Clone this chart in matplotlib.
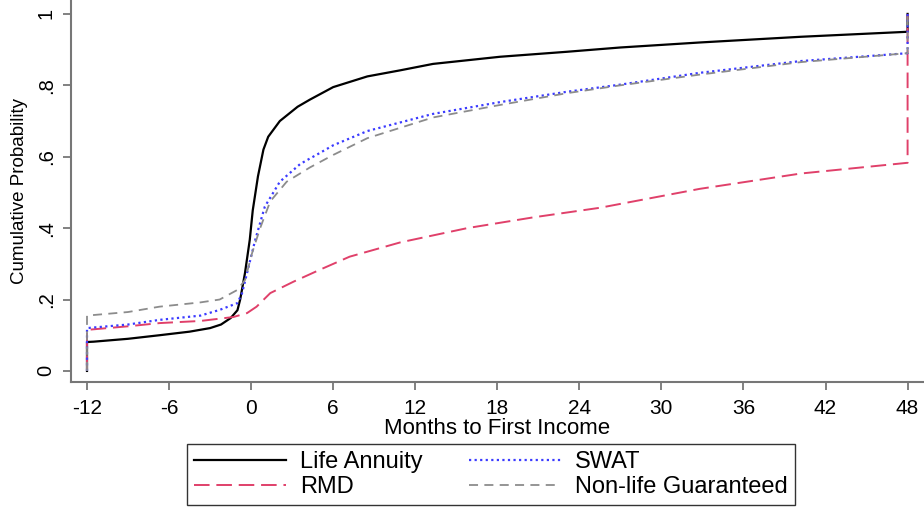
import matplotlib
matplotlib.use("Agg")
import matplotlib.pyplot as plt

plt.rcParams['font.family'] = ['Liberation Sans', 'DejaVu Sans']
plt.rcParams['axes.unicode_minus'] = False

# cumulative probability curves, months to first income
life_x = [-12, -12, -11.5, -9, -6.7, -4.5, -3, -2.2, -1.5, -1.0, -0.8, -0.45, -0.1, 0.12, 0.5, 0.9,
          1.25, 2.1, 3.4, 4.3, 6.0, 8.5, 10.9, 13.3, 18.2, 23.1, 27, 32.8, 40.2, 48, 48]
life_y = [0, 0.081, 0.082, 0.09, 0.10, 0.11, 0.12, 0.13, 0.148, 0.17, 0.2, 0.274, 0.367, 0.45, 0.545, 0.62,
          0.656, 0.70, 0.74, 0.76, 0.795, 0.825, 0.842, 0.86, 0.88, 0.894, 0.906, 0.92, 0.936, 0.95, 1.0]

rmd_x = [-12, -12, -9, -6.7, -3.7, -1.3, -0.3, 0.4, 1.4, 3.1, 5, 7.2, 10.9, 15.8, 20.6, 25.5,
         32.8, 40.2, 48, 48]
rmd_y = [0, 0.115, 0.125, 0.134, 0.14, 0.151, 0.162, 0.18, 0.218, 0.25, 0.283, 0.32, 0.36, 0.40, 0.43, 0.457,
         0.51, 0.553, 0.583, 1.0]

swat_x = [-12, -12, -9, -6.7, -3.7, -2.3, -1.0, -0.66, -0.3, 0.3, 1.0, 2.1, 3.6, 5, 6, 8.5,
          13.3, 18.2, 23.1, 27, 32.8, 40.2, 48, 48]
swat_y = [0, 0.12, 0.13, 0.143, 0.155, 0.171, 0.19, 0.218, 0.274, 0.367, 0.46, 0.53, 0.58, 0.61, 0.632, 0.672,
          0.72, 0.753, 0.782, 0.802, 0.835, 0.868, 0.89, 1.0]

nonlife_x = [-12, -12, -9, -6.7, -3.7, -2.3, -1.0, -0.44, 0.07, 0.66, 1.4, 2.6, 4.3, 6, 8.5,
             13.3, 18.2, 23.1, 27, 32.8, 40.2, 48, 48]
nonlife_y = [0, 0.155, 0.165, 0.18, 0.192, 0.2, 0.227, 0.255, 0.33, 0.40, 0.475, 0.53, 0.57, 0.605, 0.652,
             0.71, 0.745, 0.778, 0.80, 0.83, 0.865, 0.89, 1.0]

x_ticks = [-12, -6, 0, 6, 12, 18, 24, 30, 36, 42, 48]
y_ticks = [0, 0.2, 0.4, 0.6, 0.8, 1.0]
y_tick_labels = ['0', '.2', '.4', '.6', '.8', '1']

fig = plt.figure(figsize=(9.24, 5.09), dpi=100)
ax = fig.add_axes([71 / 924, 1 - 382 / 509, 1 - 71 / 924, 382 / 509])

ax.plot(life_x, life_y, color='black', lw=1.6, label='Life Annuity')
ax.plot(rmd_x, rmd_y, color='#e0406a', lw=1.4, linestyle=(0, (8, 3.5)), label='RMD')
ax.plot(swat_x, swat_y, color='#3b3bff', lw=1.6, linestyle=(0, (1, 1.5)), label='SWAT')
ax.plot(nonlife_x, nonlife_y, color='#8c8c8c', lw=1.3, linestyle=(0, (5, 3.5)), label='Non-life Guaranteed')

ax.set_xlim(-13.17, 49.2)
ax.set_ylim(-0.031, 1.039)
ax.set_xticks(x_ticks)
ax.set_yticks(y_ticks)
ax.set_yticklabels(y_tick_labels, rotation=90, va='center')
ax.tick_params(colors='#777777', labelcolor='black', length=6, width=1.3)
ax.tick_params(axis='x', labelsize=15, pad=6)
ax.tick_params(axis='y', labelsize=14.5, pad=5)

for side in ['top', 'right']:
    ax.spines[side].set_visible(False)
for side in ['left', 'bottom']:
    ax.spines[side].set_color('#777777')
    ax.spines[side].set_linewidth(1.5)

ax.set_xlabel("Months to First Income", fontsize=16, labelpad=0)
ax.set_ylabel("Cumulative Probability", fontsize=13.5, labelpad=6)

handles, labels = ax.get_legend_handles_labels()
fig.legend(handles, labels, ncol=2, loc='lower center', bbox_to_anchor=(0.531, 0.008),
           fontsize=17, frameon=True, fancybox=False, edgecolor='black', handlelength=3.9,
           handletextpad=0.6, columnspacing=1.95, labelspacing=0.12, borderpad=0.3,
           borderaxespad=0)

fig.savefig('out.png', dpi=100)
